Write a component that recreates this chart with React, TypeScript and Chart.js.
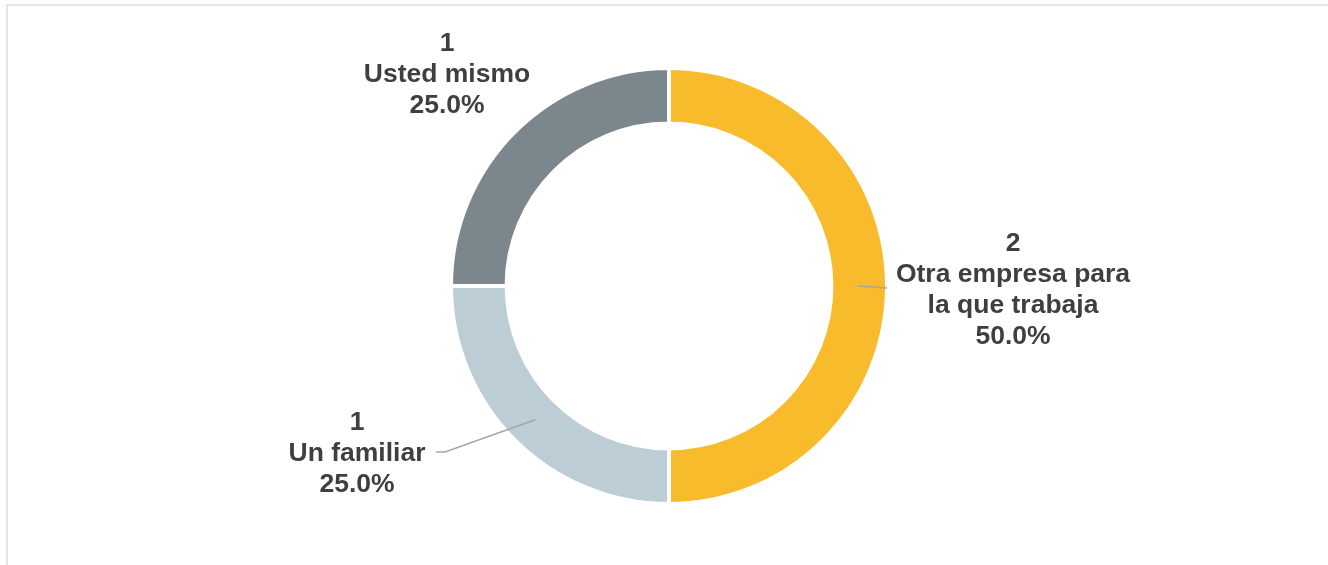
import React, { useEffect, useRef } from "react";
import { Chart, registerables } from "chart.js";

Chart.register(...registerables);

// Data (clockwise from top)
const categories = ["Otra empresa para la que trabaja", "Un familiar", "Usted mismo"];
const labelLines = [
  ["2", "Otra empresa para", "la que trabaja", "50.0%"],
  ["1", "Un familiar", "25.0%"],
  ["1", "Usted mismo", "25.0%"],
];
const counts = [2, 1, 1];
const colors = ["#F8BB2B", "#BDCDD5", "#7B868D"];

// Label placement (style): offsets from the doughnut centre
const labelOffsets = [
  { dx: 344, dy: 4.5 },
  { dx: -312, dy: 168 },
  { dx: -222, dy: -211 },
];
// leader line end points relative to centre (null = no leader)
const leaderEnds: ({ pts: [number, number][] } | null)[] = [
  { pts: [[218, 2]] },
  { pts: [[-224, 166], [-233, 166]] },
  null,
];

const labelPlugin = {
  id: "customLabels",
  afterDatasetsDraw(chart: any) {
    const ctx = chart.ctx;
    const meta = chart.getDatasetMeta(0);
    meta.data.forEach((arc: any, i: number) => {
      const { x, y, startAngle, endAngle, innerRadius, outerRadius } = arc.getProps(
        ["x", "y", "startAngle", "endAngle", "innerRadius", "outerRadius"],
        true
      );
      const mid = (startAngle + endAngle) / 2;
      const rMid = (innerRadius + outerRadius) / 2 - 1;
      const leader = leaderEnds[i];
      if (leader) {
        ctx.save();
        ctx.strokeStyle = "#A6A6A6";
        ctx.lineWidth = 1.5;
        ctx.beginPath();
        ctx.moveTo(x + Math.cos(mid) * rMid, y + Math.sin(mid) * rMid);
        leader.pts.forEach(([px, py]) => ctx.lineTo(x + px, y + py));
        ctx.stroke();
        ctx.restore();
      }
      const lines = labelLines[i];
      const off = labelOffsets[i];
      const lh = 31;
      ctx.save();
      ctx.fillStyle = "#3F3F3F";
      ctx.font = "bold 26.5px 'Liberation Sans', Arial, sans-serif";
      ctx.textAlign = "center";
      ctx.textBaseline = "middle";
      const startY = y + off.dy - ((lines.length - 1) * lh) / 2;
      lines.forEach((t, k) => {
        ctx.fillText(t, x + off.dx, startY + k * lh);
      });
      ctx.restore();
    });
  },
};

export default function App() {
  const ref = useRef<HTMLCanvasElement | null>(null);
  useEffect(() => {
    if (!ref.current) return;
    const chart = new Chart(ref.current, {
      type: "doughnut",
      data: {
        labels: categories,
        datasets: [
          {
            data: counts,
            backgroundColor: colors,
            borderColor: "#FFFFFF",
            borderWidth: 4,
          },
        ],
      },
      options: {
        responsive: false,
        animation: false,
        cutout: "74.5%",
        layout: { padding: { left: 10, right: 0, top: 66, bottom: 59 } },
        plugins: {
          legend: { display: false },
          tooltip: { enabled: false },
        },
      },
      plugins: [labelPlugin],
    });
    return () => chart.destroy();
  }, []);

  return (
    <div>
      <div
        style={{
          position: "fixed",
          left: 6,
          top: 4,
          width: 1400,
          height: 700,
          borderLeft: "2px solid #E5E5E5",
          borderTop: "2px solid #E5E5E5",
          boxSizing: "border-box",
        }}
      />
      <canvas
        ref={ref}
        width={1328}
        height={565}
        style={{ position: "fixed", left: 0, top: 0, width: 1328, height: 565 }}
      />
    </div>
  );
}
